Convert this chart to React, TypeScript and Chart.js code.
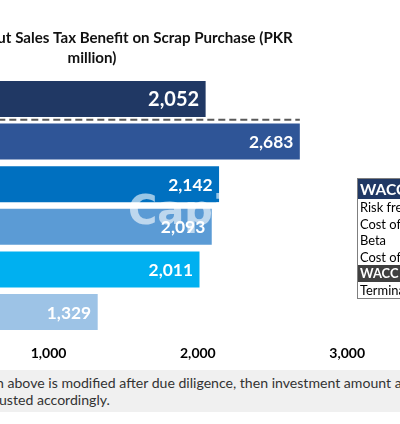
import React, { useEffect, useRef } from 'react';
import { Chart, registerables } from 'chart.js';

Chart.register(...registerables);

// ---- data ----
const CATEGORIES = ['Offer value', 'DCF - FCFE', 'DCF - FCFF', 'P/E multiple', 'EV/EBITDA multiple', 'P/B multiple'];
const VALUES = [2052, 2683, 2142, 2093, 2011, 1329];
const BAR_COLORS = ['#203864', '#2F5597', '#0070C0', '#5B9BD5', '#00B0F0', '#9DC3E6'];
const X_TICKS = [1000, 2000, 3000];
const X_MIN = 0;
const X_MAX = 3200;
const TITLE_LINES = ['Valuation without Sales Tax Benefit on Scrap Purchase (PKR', 'million)'];
const WACC_HEADER = 'WACC';
const WACC_ROWS = ['Risk free rate', 'Cost of debt', 'Beta', 'Cost of equity'];
const WACC_TOTAL = 'WACC';
const WACC_AFTER = ['Terminal growth rate'];
const NOTE_LINE_1 = ['If the valuatio', 'n above is modified after due diligence, then investment amount and share price will be'];
const NOTE_LINE_2 = ['adj', 'usted accordingly.'];
const WATERMARK = 'Capital Stake';

const LATO = "Lato, 'Noto Sans', sans-serif";

const valueLabels = {
  id: 'valueLabels',
  afterDatasetsDraw(chart: any) {
    const { ctx } = chart;
    const meta = chart.getDatasetMeta(0);
    ctx.save();
    ctx.fillStyle = '#ffffff';
    ctx.textAlign = 'right';
    ctx.textBaseline = 'middle';
    meta.data.forEach((el: any, i: number) => {
      ctx.font = i === 0 ? 'bold 20px Lato' : 'bold 17.4px Lato';
      ctx.fillText(VALUES[i].toLocaleString('en-US'), el.x - 6.5, el.y + 1);
    });
    ctx.restore();
  },
};

const dashedDivider = {
  id: 'dashedDivider',
  afterDatasetsDraw(chart: any) {
    const { ctx } = chart;
    const meta = chart.getDatasetMeta(0);
    const y = (meta.data[0].y + meta.data[1].y) / 2 - 0.5;
    const xEnd = chart.scales.x.getPixelForValue(Math.max(...VALUES));
    ctx.save();
    ctx.strokeStyle = '#595959';
    ctx.lineWidth = 2;
    ctx.setLineDash([7, 4]);
    ctx.beginPath();
    ctx.moveTo(chart.chartArea.left, y);
    ctx.lineTo(xEnd, y);
    ctx.stroke();
    ctx.restore();
  },
};

function BarChart() {
  const ref = useRef<HTMLCanvasElement | null>(null);
  useEffect(() => {
    if (!ref.current) return;
    const chart = new Chart(ref.current, {
      type: 'bar',
      data: {
        labels: CATEGORIES,
        datasets: [
          {
            data: VALUES,
            backgroundColor: BAR_COLORS,
            barPercentage: 0.845,
            categoryPercentage: 1,
            borderWidth: 0,
          },
        ],
      },
      options: {
        indexAxis: 'y',
        responsive: false,
        animation: false,
        devicePixelRatio: 1,
        layout: { padding: { left: 0, right: 0, top: 0, bottom: 3.3 } },
        plugins: {
          legend: { display: false },
          tooltip: { enabled: false },
          title: {
            display: true,
            text: TITLE_LINES,
            color: '#111111',
            font: { family: LATO, size: 15.1, weight: 'bold', lineHeight: 20 / 15.1 },
            padding: { top: 28, bottom: 9.7 },
          },
        },
        scales: {
          x: {
            min: X_MIN,
            max: X_MAX,
            grid: { display: false, drawTicks: false },
            border: { display: false },
            ticks: {
              padding: 11.3,
              color: '#000000',
              font: { family: LATO, size: 14, weight: 'bold' },
              callback: (v: any) => Number(v).toLocaleString('en-US'),
            },
            afterBuildTicks: (scale: any) => {
              scale.ticks = X_TICKS.map((v) => ({ value: v }));
            },
          },
          y: {
            grid: { display: false, drawTicks: false },
            border: { display: false },
            ticks: { display: false },
            afterFit: (scale: any) => {
              scale.width = 92.3;
            },
          },
        },
      },
      plugins: [dashedDivider, valueLabels],
    } as any);
    return () => chart.destroy();
  }, []);
  return (
    <canvas
      ref={ref}
      width={570}
      height={376}
      style={{ position: 'absolute', left: -193, top: 0, width: 570, height: 376 }}
    />
  );
}

const rowStyle: React.CSSProperties = {
  height: 16.5,
  lineHeight: '16.5px',
  paddingLeft: 2,
  whiteSpace: 'nowrap',
  color: '#000',
};

export default function App() {
  return (
    <div
      style={{
        position: 'fixed',
        left: 0,
        top: 0,
        width: 400,
        height: 424,
        overflow: 'hidden',
        background: '#ffffff',
      }}
    >
      <BarChart />
      <div
        style={{
          position: 'absolute',
          left: 128,
          top: 186,
          fontFamily: "'DejaVu Sans', sans-serif",
          fontWeight: 'bold',
          fontSize: 40,
          lineHeight: '48px',
          color: 'rgba(255,255,255,0.6)',
          whiteSpace: 'nowrap',
          pointerEvents: 'none',
        }}
      >
        {WATERMARK}
      </div>
      <div
        style={{
          position: 'absolute',
          left: 357,
          top: 178,
          width: 140,
          border: '1px solid #7f7f7f',
          fontFamily: LATO,
          fontSize: 12.9,
        }}
      >
        <div style={{ ...rowStyle, height: 20, lineHeight: '20px', background: '#203864', color: '#fff', fontWeight: 'bold', fontSize: 15.5 }}>
          {WACC_HEADER}
        </div>
        {WACC_ROWS.map((r) => (
          <div key={r} style={rowStyle}>
            {r}
          </div>
        ))}
        <div style={{ ...rowStyle, background: '#404040', color: '#fff', fontWeight: 'bold' }}>{WACC_TOTAL}</div>
        {WACC_AFTER.map((r) => (
          <div key={r} style={rowStyle}>
            {r}
          </div>
        ))}
      </div>
      <div
        style={{
          position: 'absolute',
          left: 0,
          top: 370,
          width: 400,
          height: 42,
          background: '#f0f0f0',
          fontFamily: LATO,
          fontSize: 14.1,
          color: '#333333',
        }}
      >
        <div style={{ position: 'absolute', left: -4, top: 4, lineHeight: '18px', whiteSpace: 'nowrap' }}>
          <span style={{ position: 'absolute', right: '100%', whiteSpace: 'nowrap' }}>{NOTE_LINE_1[0]}</span>
          {NOTE_LINE_1[1]}
        </div>
        <div style={{ position: 'absolute', left: -1, top: 21, lineHeight: '18px', whiteSpace: 'nowrap' }}>
          <span style={{ position: 'absolute', right: '100%', whiteSpace: 'nowrap' }}>{NOTE_LINE_2[0]}</span>
          {NOTE_LINE_2[1]}
        </div>
      </div>
    </div>
  );
}
